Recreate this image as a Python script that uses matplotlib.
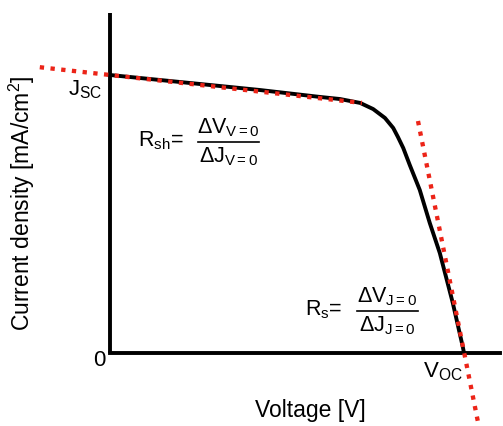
import matplotlib
matplotlib.use("Agg")
import matplotlib.pyplot as plt
from matplotlib.lines import Line2D

plt.rcParams['font.family'] = ['Liberation Sans', 'DejaVu Sans']
plt.rcParams['mathtext.fontset'] = 'custom'
plt.rcParams['mathtext.rm'] = 'Liberation Sans'
plt.rcParams['mathtext.it'] = 'Liberation Sans'
plt.rcParams['mathtext.bf'] = 'Liberation Sans:bold'

# J-V curve of the cell (V in volts, J in mA/cm2)
volt = [0, 0.153, 0.254, 0.356, 0.390, 0.424, 0.446, 0.466, 0.480, 0.488, 0.497,
        0.508, 0.525, 0.542, 0.559, 0.581, 0.598, 0.600]
curr = [20.0, 19.35, 18.92, 18.42, 18.27, 17.99, 17.55, 16.91, 16.19, 15.54, 14.75,
        13.53, 11.73, 9.35, 7.19, 3.60, 0.43, 0]

# tangent at V=0 (shunt) and at J=0 (series)
rsh_v = [-0.119, 0.427]
rsh_j = [20.56, 17.99]
rs_v = [0.522, 0.625]
rs_j = [16.69, -5.25]

W, H = 503, 426
fig = plt.figure(figsize=(W / 100, H / 100), dpi=100)
ax = fig.add_axes([110 / W, (H - 353) / H, 390 / W, 340 / H])

ax.plot(volt, curr, color='black', lw=2.8, solid_joinstyle='round', zorder=2)
red = '#ec2418'
for vv, jj in [(rsh_v, rsh_j), (rs_v, rs_j)]:
    ax.plot(vv, jj, color=red, lw=3.1, linestyle=(0, (1, 1.5)),
            dash_capstyle='butt', clip_on=False, zorder=3)

ax.set_xlim(0, 0.661)
ax.set_ylim(0, 24.46)
for s in ax.spines.values():
    s.set_visible(False)
# axis lines
ax.plot([0, 0], [0, 1], color='black', lw=2.8, transform=ax.transAxes,
        clip_on=False, solid_capstyle='butt', zorder=1)
ax.plot([0, 1], [0, 0], color='black', lw=2.8, transform=ax.transAxes,
        clip_on=False, solid_capstyle='projecting', zorder=1)
ax.set_xticks([])
ax.set_yticks([])


def px(x, y):
    return x / W, 1 - y / H


fig.text(*px(22, 203), 'Current density [mA/cm$^2$]', rotation=90,
         ha='center', va='center', fontsize=16.5)
fig.text(*px(310, 410), 'Voltage [V]', ha='center', va='center', fontsize=16.5)
fig.text(*px(99, 360), '0', ha='center', va='center', fontsize=16)
fig.text(*px(102, 90), r'J$_\mathregular{SC}$', ha='right', va='center', fontsize=16)
fig.text(*px(423, 372), r'V$_\mathregular{OC}$', ha='left', va='center', fontsize=16)


def ratio(x0, y_bar, bar_x0, bar_x1, lhs, num, den, size=15.5):
    fig.text(*px(x0, y_bar - 1), lhs, ha='left', va='center', fontsize=size)
    xc = (bar_x0 + bar_x1) / 2
    fig.text(*px(xc, y_bar - 3), num, ha='center', va='bottom', fontsize=size)
    fig.text(*px(xc, y_bar + 3), den, ha='center', va='top', fontsize=size)
    fig.add_artist(Line2D([bar_x0 / W, bar_x1 / W], [1 - y_bar / H] * 2,
                          color='black', lw=1.2))


ratio(138, 142, 198, 259, r'R$_\mathregular{sh}$=',
      r'$\Delta$V$_\mathregular{V=0}$', r'$\Delta$J$_\mathregular{V=0}$')
ratio(305, 311, 357, 418, r'R$_\mathregular{s}$=',
      r'$\Delta$V$_\mathregular{J=0}$', r'$\Delta$J$_\mathregular{J=0}$')

fig.savefig('out.png', dpi=100)
